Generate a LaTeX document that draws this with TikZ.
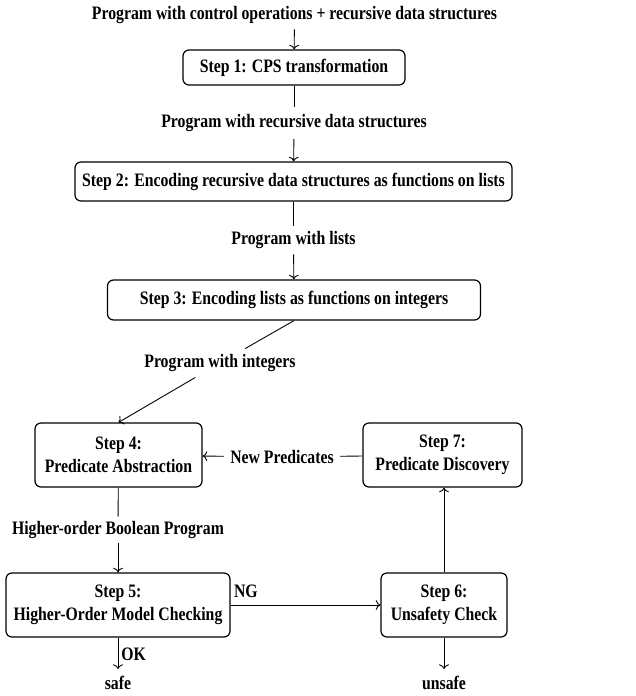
\documentclass[tikz,border=0pt]{standalone}
\usepackage{fontspec}
\setmainfont[FakeStretch=0.83]{Liberation Serif}
\usepackage{tikz}
\usetikzlibrary{positioning, arrows.meta, calc}

\begin{document}
\begin{tikzpicture}[x=1pt, y=-1pt, line width=0.9pt, >={To[scale=1.3]},
    every node/.style={font=\fontsize{19}{23}\selectfont\bfseries},
    stepbox/.style={draw, rounded corners=6pt, align=center, inner sep=0pt, line width=1.2pt},
    flowlbl/.style={inner ysep=0pt, inner xsep=6pt, minimum height=28pt},
    result/.style={anchor=north, inner ysep=0pt}]
  \useasboundingbox (0,0) rectangle (635,696);

  % translation steps
  \node[flowlbl] (input) at (294.5,15) {Program with control operations + recursive data structures};
  \node[stepbox, minimum width=222pt, minimum height=35pt] (step1) at (294,67.5) {Step 1: CPS transformation};
  \node[flowlbl, minimum height=31pt] (lblRec) at (294,123) {Program with recursive data structures};
  \node[stepbox, minimum width=437pt, minimum height=39pt] (step2) at (293.5,181.5) {Step 2: Encoding recursive data structures as functions on lists};
  \node[flowlbl] (lblList) at (293.5,240) {Program with lists};
  \node[stepbox, minimum width=373pt, minimum height=40pt] (step3) at (294,300) {Step 3: Encoding lists as functions on integers};
  \node[flowlbl] (lblInt) at (220,363) {Program with integers};

  % CEGAR loop
  \node[stepbox, minimum width=167pt, minimum height=64pt] (step4) at (118.5,455) {Step 4:\\Predicate Abstraction};
  \node[stepbox, minimum width=159pt, minimum height=64pt] (step7) at (442.5,455) {Step 7:\\Predicate Discovery};
  \node[flowlbl] (lblNew) at (282,457) {New Predicates};
  \node[flowlbl, minimum height=26pt] (lblBool) at (118,530) {Higher-order Boolean Program};
  \node[stepbox, minimum width=224pt, minimum height=64pt] (step5) at (118,605) {Step 5:\\Higher-Order Model Checking};
  \node[stepbox, minimum width=126pt, minimum height=64pt] (step6) at (444,605) {Step 6:\\Unsafety Check};
  \node[result] (safe) at (118,676) {safe};
  \node[result] (unsafe) at (444,676) {unsafe};

  \draw[->] (input) -- (step1);
  \draw (step1) -- (lblRec);
  \draw[->] (lblRec) -- (step2);
  \draw (step2) -- (lblList);
  \draw[->] (lblList) -- (step3);
  \draw (step3.south) -- (lblInt);
  \draw[->] (lblInt) -- (step4.north);

  \draw (step4) -- (lblBool);
  \draw[->] (lblBool) -- (step5);
  \draw[->] (step5) -- node[pos=0, above right, inner sep=3pt, yshift=4pt] (ng) {NG} (step6);
  \draw[->] (step6.north) -- (step6.north |- step7.south);
  \draw (step7) -- (lblNew);
  \draw[->] (lblNew) -- (step4);
  \draw[->, shorten >=7pt] (step5) -- node[right, inner sep=3pt, yshift=3pt] (ok) {OK} (safe);
  \draw[->, shorten >=7pt] (step6) -- (unsafe);
\end{tikzpicture}
\end{document}
